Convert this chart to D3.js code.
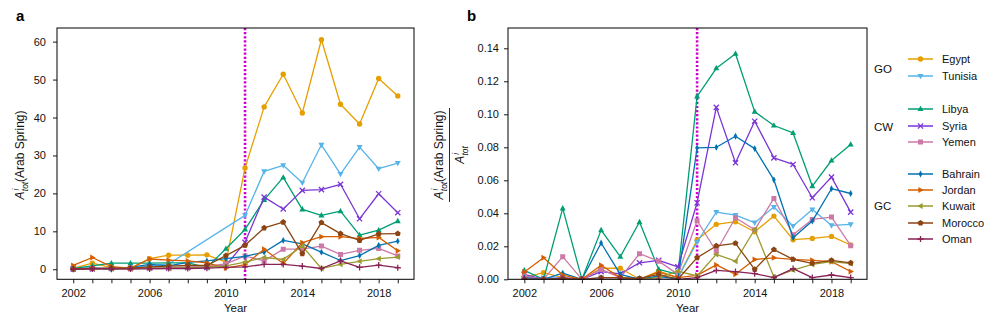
<!DOCTYPE html>
<html><head><meta charset="utf-8">
<script src="https://cdn.jsdelivr.net/npm/d3@7"></script>
<style>
body{margin:0;background:#fff;}
svg{display:block;font-family:"Liberation Sans",Arial,Helvetica,sans-serif;}
</style></head><body>
<svg id="chart" width="996" height="322"></svg>
<script>
// ---------------- DATA ----------------
const years = [2002,2003,2004,2005,2006,2007,2008,2009,2010,2011,2012,2013,2014,2015,2016,2017,2018,2019];
const labeledYears = [2002,2006,2010,2014,2018];
const eventYear = 2011;
const countries = ["Egypt","Tunisia","Libya","Syria","Yemen","Bahrain","Jordan","Kuwait","Morocco","Oman"];
const colors = ["#E69F00","#56B4E9","#009E73","#7A35D6","#CC79A7","#0072B2","#D55E00","#9B9B32","#8B4513","#882255"];
const markers = ["circle","triDown","triUp","x","square","thinDiamond","triRight","triLeft","pentagon","plus"];
const groupNames = ["GO","CW","GC"];
const groupMembers = [["Egypt","Tunisia"],["Libya","Syria","Yemen"],["Bahrain","Jordan","Kuwait","Morocco","Oman"]];
const yTicksA = [0,10,20,30,40,50,60];
const yTicksB = [0,0.02,0.04,0.06,0.08,0.10,0.12,0.14];

// Panel a: A_tot(Arab Spring)
const egyptA   = [0.2,1.6,0.4,0.2,2.8,3.7,3.7,3.8,1.9,26.7,42.8,51.4,41.2,60.5,43.5,38.3,50.3,45.7];
const tunisiaA = [0.1,0.3,0.2,0.3,0.9,1.4,null,null,null,14.2,25.8,27.4,22.8,32.8,25.1,32.2,26.5,28.0];
const libyaA   = [0.2,0.9,1.6,1.6,1.6,1.7,1.7,0.5,5.4,10.5,18.3,24.2,15.8,14.2,15.3,9.0,10.3,12.7];
const syriaA   = [0.1,0.1,0.2,0.2,0.3,0.3,0.4,0.5,1.0,7.1,19.0,15.9,20.8,21.0,22.4,13.3,19.9,14.9];
const yemenA   = [0.1,0.2,0.2,0.1,0.3,0.5,0.6,0.8,1.4,3.5,2.2,5.3,5.3,6.1,3.9,5.0,5.5,3.5];
const bahrainA = [0.1,0.3,0.0,0.5,1.3,0.9,1.8,2.2,2.8,3.4,4.5,7.6,6.7,4.5,2.3,3.6,6.3,7.4];
const jordanA  = [1.0,3.1,0.7,0.3,2.7,2.4,2.2,1.7,0.3,1.2,5.3,1.5,7.0,8.6,8.6,8.1,8.4,4.9];
const kuwaitA  = [0.1,0.1,0.2,0.2,0.3,0.3,0.4,0.6,0.9,1.9,3.1,2.6,6.1,0.2,1.3,2.1,2.8,3.2];
const moroccoA = [0.1,0.2,0.3,0.3,0.6,0.8,1.0,1.0,3.6,6.3,10.9,12.4,4.1,12.3,9.4,7.6,9.3,9.4];
const omanA    = [0.0,0.1,0.1,0.1,0.1,0.2,0.2,0.3,0.5,0.6,1.3,1.3,0.8,0.2,2.2,0.5,1.1,0.4];

// Panel b: A_tot(Arab Spring) / A_tot
const egyptB   = [0.001,0.004,0.001,0.0,0.0067,0.0067,0.0,0.005,0.001,0.0238,0.0333,0.0349,0.0288,0.0383,0.024,0.0248,0.026,0.0208];
const tunisiaB = [0.0005,0.001,0.0005,0.0,0.001,0.001,0.0005,0.001,0.001,0.0226,0.0407,0.0389,0.0343,0.0438,0.0323,0.0423,0.0327,0.0333];
const libyaB   = [0.0054,0.0,0.043,0.0,0.0298,0.0137,0.0347,0.006,0.003,0.1109,0.1279,0.1367,0.1016,0.0932,0.0887,0.0565,0.072,0.0817];
const syriaB   = [0.003,0.0,0.001,0.0,0.0046,0.0033,0.010,0.0115,0.0075,0.0464,0.1042,0.0706,0.0958,0.0736,0.0696,0.0494,0.0619,0.0407];
const yemenB   = [0.002,0.0,0.0137,0.0,0.006,0.001,0.0155,0.011,0.003,0.0355,0.017,0.0373,0.030,0.049,0.027,0.0363,0.0377,0.0204];
const bahrainB = [0.001,0.0,0.0038,0.0,0.022,0.003,0.0,0.002,0.0,0.0797,0.080,0.0867,0.0792,0.0603,0.0252,0.0353,0.0549,0.052];
const jordanB  = [0.0044,0.0131,0.0026,0.0,0.0085,0.001,0.0,0.0044,0.001,0.0024,0.0087,0.003,0.012,0.013,0.0121,0.0115,0.0107,0.0047];
const kuwaitB  = [0.0,0.0,0.0,0.0,0.0,0.0,0.0,0.001,0.005,0.002,0.0151,0.011,0.0302,0.0014,0.0056,0.009,0.0107,0.0095];
const moroccoB = [0.0,0.0,0.0005,0.0,0.001,0.001,0.0005,0.003,0.0,0.0131,0.0202,0.0218,0.006,0.018,0.0121,0.0097,0.0115,0.0099];
const omanB    = [0.0,0.0,0.0,0.0,0.0,0.0,0.0,0.0,0.0,0.001,0.0054,0.0047,0.0034,0.001,0.0065,0.001,0.0026,0.001];

const seriesA = [egyptA,tunisiaA,libyaA,syriaA,yemenA,bahrainA,jordanA,kuwaitA,moroccoA,omanA];
const seriesB = [egyptB,tunisiaB,libyaB,syriaB,yemenB,bahrainB,jordanB,kuwaitB,moroccoB,omanB];

// ---------------- DRAW ----------------
const svg = d3.select("#chart");
const TOP = 28, BOTTOM = 279.3;

function markerPath(type){
  const p = d3.path();
  const poly = pts => { p.moveTo(pts[0][0],pts[0][1]); pts.slice(1).forEach(q=>p.lineTo(q[0],q[1])); p.closePath(); };
  switch(type){
    case "triUp":   poly([[0,-3.3],[3,2.1],[-3,2.1]]); break;
    case "triDown": poly([[0,3.3],[3,-2.1],[-3,-2.1]]); break;
    case "triRight":poly([[3.3,0],[-2.1,3],[-2.1,-3]]); break;
    case "triLeft": poly([[-3.3,0],[2.1,3],[2.1,-3]]); break;
    case "square":  poly([[-2.5,-2.5],[2.5,-2.5],[2.5,2.5],[-2.5,2.5]]); break;
    case "thinDiamond": poly([[0,-3.4],[1.9,0],[0,3.4],[-1.9,0]]); break;
    case "pentagon": { const r=3.1; poly(d3.range(5).map(k=>{const a=-Math.PI/2+k*2*Math.PI/5; return [r*Math.cos(a), r*Math.sin(a)];})); break; }
    case "x": { const s=2.6; p.moveTo(-s,-s); p.lineTo(s,s); p.moveTo(-s,s); p.lineTo(s,-s); break; }
    case "plus": { const s=3.1; p.moveTo(-s,0); p.lineTo(s,0); p.moveTo(0,-s); p.lineTo(0,s); break; }
  }
  return p.toString();
}
function drawMarker(g, type, x, y, color){
  if(type==="circle"){
    g.append("circle").attr("cx",x).attr("cy",y).attr("r",2.7).attr("fill",color);
  } else if(type==="x" || type==="plus"){
    g.append("path").attr("d",markerPath(type)).attr("transform",`translate(${x},${y})`)
      .attr("fill","none").attr("stroke",color).attr("stroke-width",1.3);
  } else {
    g.append("path").attr("d",markerPath(type)).attr("transform",`translate(${x},${y})`).attr("fill",color);
  }
}

function panel(left, right, yDomain, yTicks, yFmt, series, id, labelPad){
  const x = d3.scaleLinear().domain([2001.15, 2019.85]).range([left, right]);
  const y = d3.scaleLinear().domain(yDomain).range([BOTTOM, TOP]);
  svg.append("clipPath").attr("id",id).append("rect")
    .attr("x",left).attr("y",TOP).attr("width",right-left).attr("height",BOTTOM-TOP);

  const xa = svg.append("g").attr("transform",`translate(0,${BOTTOM})`)
    .call(d3.axisBottom(x).tickValues(years).tickFormat(d=>labeledYears.includes(d)?String(d):"").tickSize(4).tickPadding(5.5));
  const ya = svg.append("g").attr("transform",`translate(${left},0)`)
    .call(d3.axisLeft(y).tickValues(yTicks).tickFormat(yFmt).tickSize(4).tickPadding(labelPad));
  [xa,ya].forEach(a=>{
    a.select(".domain").remove();
    a.selectAll("line").attr("stroke","#000").attr("stroke-width",0.9);
    a.selectAll("text").attr("fill","#111").attr("font-size",11).attr("font-family",'"Liberation Sans",Arial,sans-serif');
  });

  const data = svg.append("g").attr("clip-path",`url(#${id})`);
  data.append("line").attr("x1",x(eventYear)).attr("x2",x(eventYear)).attr("y1",TOP).attr("y2",BOTTOM)
    .attr("stroke","#D000D0").attr("stroke-width",2.6).attr("stroke-dasharray","2.2,1.9");

  series.forEach((vals,i)=>{
    const pts = years.map((yr,j)=>({x:yr,v:vals[j]})).filter(d=>d.v!==null);
    const line = d3.line().x(d=>x(d.x)).y(d=>y(d.v));
    data.append("path").datum(pts).attr("d",line).attr("fill","none")
      .attr("stroke",colors[i]).attr("stroke-width",1.3).attr("stroke-linejoin","round");
    const mg = data.append("g");
    pts.forEach(d=>drawMarker(mg, markers[i], x(d.x), y(d.v), colors[i]));
  });

  svg.append("rect").attr("x",left).attr("y",TOP).attr("width",right-left).attr("height",BOTTOM-TOP)
    .attr("fill","none").attr("stroke","#000").attr("stroke-width",1);

  svg.append("text").attr("x",(left+right)/2).attr("y",312).attr("text-anchor","middle")
    .attr("font-size",11.5).attr("fill","#111").text("Year");
}

panel(57, 414, [-2.65, 63.6], yTicksA, d3.format("d"), seriesA, "clipA", 7);
panel(508, 867, [0, 0.1523], yTicksB, d3.format(".2f"), seriesB, "clipB", 5);

svg.append("text").attr("x",16).attr("y",21).attr("font-size",15).attr("font-weight","bold").text("a");
svg.append("text").attr("x",467).attr("y",21).attr("font-size",15).attr("font-weight","bold").text("b");

function atot(g, fs){
  g.append("tspan").attr("font-style","italic").text("A");
  g.append("tspan").attr("font-style","italic").attr("font-size",fs*0.7).attr("dy",-fs*0.45).attr("dx",1).text("i");
  g.append("tspan").attr("font-style","italic").attr("font-size",fs*0.7).attr("dx",-2.6).attr("dy",fs*0.75).text("tot");
}
const yl = svg.append("text").attr("transform","translate(24,155) rotate(-90)").attr("text-anchor","middle")
  .attr("font-size",12).attr("fill","#111");
atot(yl,12);
yl.append("tspan").attr("dy",-12*0.3).text("(Arab Spring)");

const num = svg.append("text").attr("transform","translate(443,155) rotate(-90)").attr("text-anchor","middle")
  .attr("font-size",12).attr("fill","#111");
atot(num,12);
num.append("tspan").attr("dy",-12*0.3).text("(Arab Spring)");
svg.append("line").attr("x1",449.5).attr("x2",449.5).attr("y1",108).attr("y2",202).attr("stroke","#111").attr("stroke-width",0.9);
const den = svg.append("text").attr("transform","translate(464,155) rotate(-90)").attr("text-anchor","middle")
  .attr("font-size",12).attr("fill","#111");
atot(den,12);

const legendRowY = {Egypt:59,Tunisia:76,Libya:109,Syria:126,Yemen:142,Bahrain:174,Jordan:190,Kuwait:206,Morocco:223,Oman:239};
const groupY = [69,127,206];
const lg = svg.append("g");
groupNames.forEach((gname,gi)=>{
  lg.append("text").attr("x",874).attr("y",groupY[gi]+4).attr("font-size",11.5).attr("fill","#111").text(gname);
  groupMembers[gi].forEach(c=>{
    const i = countries.indexOf(c);
    const yy = legendRowY[c];
    const item = lg.append("g");
    item.append("line").attr("x1",908).attr("x2",933).attr("y1",yy).attr("y2",yy)
      .attr("stroke",colors[i]).attr("stroke-width",2).attr("opacity",0.75);
    drawMarker(item, markers[i], 920.5, yy, colors[i]);
    lg.append("text").attr("x",942).attr("y",yy+4).attr("font-size",11).attr("fill","#111").text(c);
  });
});
</script>
</body></html>
